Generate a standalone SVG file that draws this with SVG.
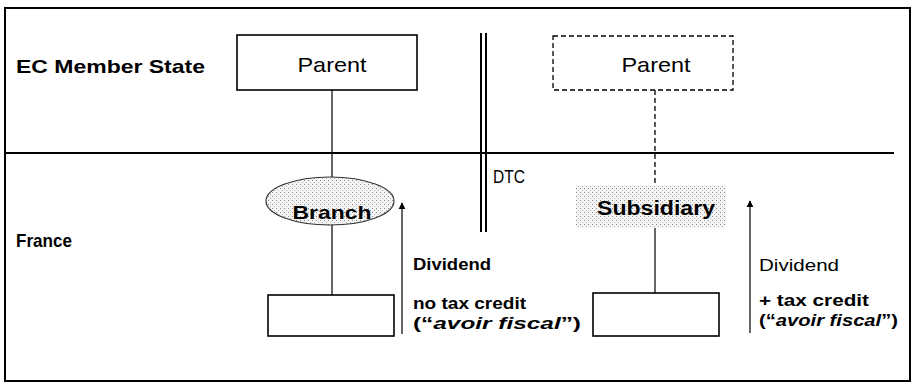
<svg xmlns="http://www.w3.org/2000/svg" width="913" height="386" viewBox="0 0 913 386">
  <style>
    .lbl { font-family: "Liberation Sans", Arial, sans-serif; fill: #000; }
    .b { font-weight: bold; }
    .box { fill: #fff; stroke: #000; stroke-width: 1.6; }
    .ln { stroke: #000; stroke-width: 1.2; fill: none; }
    .dash { stroke: #000; stroke-width: 1.3; stroke-dasharray: 5 3; fill: none; }
  </style>
  <defs>
    <pattern id="stipple" width="4" height="4" patternUnits="userSpaceOnUse">
      <rect width="4" height="4" fill="#f4f4f4"/>
      <rect x="0" y="0" width="1" height="1" fill="#8a8a8a"/>
      <rect x="2" y="2" width="1" height="1" fill="#b5b5b5"/>
    </pattern>
    <marker id="arrow" viewBox="0 0 10 10" refX="9" refY="5" markerWidth="7" markerHeight="9" orient="auto" markerUnits="userSpaceOnUse">
      <path d="M0,0 L10,5 L0,10 Z" fill="#000"/>
    </marker>
  </defs>

  <rect width="913" height="386" fill="#fff"/>

  <!-- outer frame -->
  <rect x="5" y="8" width="905" height="373" fill="none" stroke="#000" stroke-width="2"/>

  <!-- row labels -->
  <text class="lbl b" x="16" y="73" font-size="19" textLength="189" lengthAdjust="spacingAndGlyphs">EC Member State</text>
  <text class="lbl b" x="16" y="247" font-size="19" textLength="56" lengthAdjust="spacingAndGlyphs">France</text>

  <!-- border between the two states and the treaty line -->
  <g id="connectors">
    <line x1="5" y1="153" x2="894" y2="153" stroke="#000" stroke-width="2.2"/>
    <line x1="481" y1="33" x2="481" y2="232" stroke="#000" stroke-width="2"/>
    <line x1="486" y1="33" x2="486" y2="232" stroke="#000" stroke-width="2"/>
    <!-- branch chain -->
    <line class="ln" x1="332" y1="90" x2="332" y2="177"/>
    <line class="ln" x1="332" y1="224" x2="332" y2="295"/>
    <line class="ln" x1="402" y1="334" x2="402" y2="203" marker-end="url(#arrow)"/>
    <!-- subsidiary chain -->
    <line class="dash" x1="655" y1="90" x2="655" y2="185"/>
    <line class="ln" x1="655" y1="228" x2="655" y2="293"/>
    <line class="ln" x1="750" y1="333" x2="750" y2="201" marker-end="url(#arrow)"/>
  </g>

  <g id="parent-left">
    <rect class="box" x="237" y="35" width="180" height="55"/>
    <text class="lbl" x="332" y="72" font-size="21" text-anchor="middle" textLength="69" lengthAdjust="spacingAndGlyphs">Parent</text>
  </g>

  <g id="parent-right">
    <rect x="553" y="36" width="180" height="54" fill="#fff" stroke="#000" stroke-width="1.3" stroke-dasharray="5 3"/>
    <text class="lbl" x="656" y="72" font-size="21" text-anchor="middle" textLength="69" lengthAdjust="spacingAndGlyphs">Parent</text>
  </g>

  <g id="dtc">
    <text class="lbl" x="493" y="183" font-size="19" textLength="32" lengthAdjust="spacingAndGlyphs">DTC</text>
  </g>

  <g id="branch">
    <ellipse cx="330" cy="201" rx="64" ry="24" fill="url(#stipple)" stroke="#333" stroke-width="1.2"/>
    <text class="lbl b" x="332" y="219" font-size="19" text-anchor="middle" textLength="79" lengthAdjust="spacingAndGlyphs">Branch</text>
  </g>

  <g id="subsidiary">
    <rect x="576" y="185" width="150" height="43" fill="url(#stipple)"/>
    <text class="lbl b" x="656" y="215" font-size="20" text-anchor="middle" textLength="118" lengthAdjust="spacingAndGlyphs">Subsidiary</text>
  </g>

  <g id="company-left">
    <rect class="box" x="268" y="295" width="126" height="41"/>
  </g>

  <g id="company-right">
    <rect class="box" x="593" y="293" width="126" height="43"/>
  </g>

  <g id="branch-flow-label">
    <text class="lbl b" x="413" y="270" font-size="17" textLength="78" lengthAdjust="spacingAndGlyphs">Dividend</text>
    <text class="lbl b" x="413" y="309" font-size="17" textLength="113" lengthAdjust="spacingAndGlyphs">no tax credit</text>
    <text class="lbl b" x="413" y="329" font-size="17" textLength="168" lengthAdjust="spacingAndGlyphs">(“<tspan font-style="italic">avoir fiscal</tspan>”)</text>
  </g>

  <g id="subsidiary-flow-label">
    <text class="lbl" x="759" y="271" font-size="17" textLength="80" lengthAdjust="spacingAndGlyphs">Dividend</text>
    <text class="lbl b" x="759" y="306" font-size="17" textLength="110" lengthAdjust="spacingAndGlyphs">+ tax credit</text>
    <text class="lbl b" x="759" y="326" font-size="17" textLength="139" lengthAdjust="spacingAndGlyphs">(“<tspan font-style="italic">avoir fiscal</tspan>”)</text>
  </g>
</svg>
